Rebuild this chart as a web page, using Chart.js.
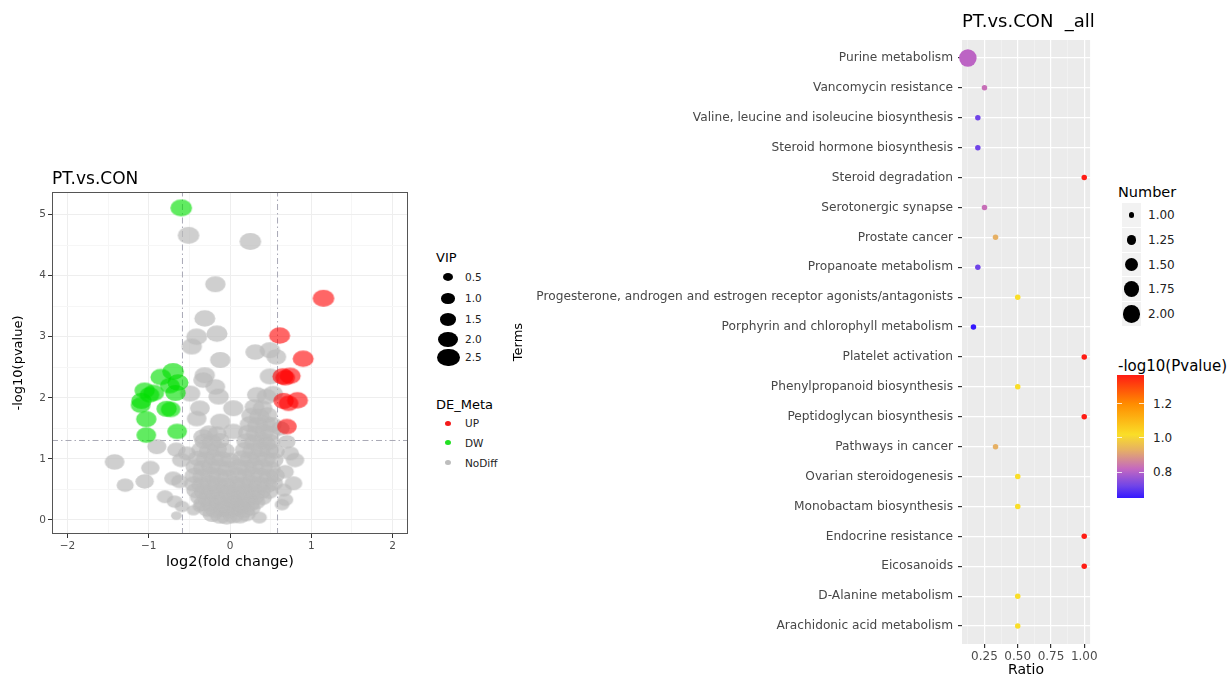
<!DOCTYPE html>
<html>
<head>
<meta charset="utf-8">
<script src="https://cdn.jsdelivr.net/npm/chart.js@4.4.1/dist/chart.umd.min.js"></script>
<style>
  html, body { margin: 0; padding: 0; background: #fff; }
  body { width: 1232px; height: 679px; position: relative; overflow: hidden;
         font-family: 'DejaVu Sans', sans-serif; }
  .box { position: absolute; }
  .t { position: absolute; line-height: 1; white-space: pre; color: #000; }
  .sw { position: absolute; }
</style>
</head>
<body>
<div class="box" style="left:0;top:160px;width:420px;height:420px"><canvas id="volcano" width="420" height="420"></canvas></div>
<div class="box" style="left:500px;top:0;width:600px;height:679px"><canvas id="enrich" width="600" height="679"></canvas></div>
<div id="overlay"></div>
<script>
// ---------------- Volcano plot data: [log2(fold change), -log10(pvalue), VIP] ----------------
const upPoints = [
  [1.15, 3.63, 2.3], [0.61, 3.02, 2.2], [0.90, 2.64, 2.2], [0.65, 2.35, 2.2], [0.74, 2.36, 2.2],
  [0.68, 2.33, 2.0], [0.83, 1.96, 2.2], [0.66, 1.95, 2.1], [0.72, 1.91, 2.0], [0.70, 1.53, 2.0]
];
const downPoints = [
  [-0.60, 5.11, 2.3], [-0.70, 2.43, 2.3], [-0.85, 2.34, 2.2], [-0.64, 2.25, 2.2], [-0.74, 2.20, 2.0],
  [-1.05, 2.12, 2.1], [-0.94, 2.08, 2.2], [-0.99, 2.05, 2.0], [-0.67, 2.08, 2.1], [-1.09, 1.95, 2.1],
  [-1.10, 1.88, 2.0], [-0.78, 1.82, 2.1], [-0.73, 1.81, 2.0], [-1.03, 1.65, 2.1], [-1.03, 1.39, 2.0],
  [-0.65, 1.45, 2.0]
];
const noDiffOutliers = [
  [-0.51, 4.66, 2.3], [0.25, 4.56, 2.3], [-0.18, 3.86, 2.1], [-0.31, 3.30, 2.2], [-0.41, 3.00, 2.2],
  [-0.16, 3.05, 2.2], [-0.47, 2.84, 2.1], [-0.12, 2.62, 2.1], [0.31, 2.75, 2.0], [0.49, 2.78, 2.1],
  [0.57, 2.67, 2.0], [-0.31, 2.37, 2.1], [-0.33, 2.29, 2.0], [-0.18, 2.18, 2.0], [-0.49, 2.07, 2.1],
  [-0.14, 2.02, 2.1], [0.33, 2.05, 2.0], [0.49, 2.35, 2.1], [0.53, 2.07, 2.0], [0.45, 2.02, 2.0],
  [-0.37, 1.83, 2.0], [0.04, 1.83, 2.1], [-0.41, 1.66, 2.0], [-0.12, 1.61, 2.1], [-0.33, 1.36, 2.0],
  [0.04, 1.45, 2.0], [-0.90, 1.20, 1.9], [-1.42, 0.95, 2.0], [-0.98, 0.85, 1.8], [-1.29, 0.57, 1.6],
  [-1.05, 0.63, 1.8], [-0.70, 0.68, 1.7], [-0.62, 0.63, 1.6], [-0.80, 0.38, 1.5], [-0.68, 0.30, 1.4],
  [-0.59, 0.22, 1.2], [-0.66, 0.07, 0.6], [-0.45, 0.16, 1.0], [-0.37, 0.22, 1.2], [0.36, 0.04, 1.3],
  [-0.66, 1.15, 1.8], [-0.60, 0.98, 1.8], [-0.53, 1.09, 1.7], [0.80, 0.98, 1.8], [0.74, 1.09, 1.7],
  [0.78, 0.60, 1.7], [0.68, 0.79, 1.6], [0.66, 0.49, 1.5], [0.68, 0.33, 1.4], [0.64, 0.25, 1.2],
  [0.70, 1.28, 1.6], [0.62, 1.50, 1.8], [0.45, 1.25, 1.8]
];
const noDiffCore = [
  [-0.22, 0.09, 1.9], [-0.12, 0.07, 2.1], [-0.04, 0.06, 2.2], [0.04, 0.08, 2.2], [0.12, 0.07, 2.0], [0.20, 0.10, 1.9],
  [-0.28, 0.17, 1.8], [-0.18, 0.16, 2.0], [-0.08, 0.18, 2.1], [0.00, 0.17, 2.2], [0.08, 0.19, 2.0], [0.18, 0.17, 2.1], [0.26, 0.19, 1.8],
  [-0.33, 0.27, 1.9], [-0.24, 0.26, 2.0], [-0.14, 0.28, 2.1], [-0.05, 0.25, 2.0], [0.05, 0.28, 2.1], [0.14, 0.26, 2.0], [0.24, 0.27, 2.1], [0.32, 0.29, 1.8],
  [-0.38, 0.37, 1.8], [-0.28, 0.35, 2.0], [-0.18, 0.38, 2.1], [-0.08, 0.36, 2.0], [0.02, 0.34, 2.1], [0.10, 0.37, 2.0], [0.20, 0.35, 2.1], [0.30, 0.38, 2.0], [0.40, 0.36, 1.8],
  [-0.42, 0.48, 1.9], [-0.32, 0.46, 2.0], [-0.22, 0.49, 2.1], [-0.12, 0.47, 2.0], [-0.02, 0.45, 2.1], [0.08, 0.48, 2.0], [0.18, 0.46, 2.1], [0.28, 0.49, 2.0], [0.38, 0.47, 2.0], [0.48, 0.46, 1.8],
  [-0.45, 0.59, 1.9], [-0.35, 0.57, 2.0], [-0.25, 0.60, 2.1], [-0.15, 0.58, 2.0], [-0.05, 0.56, 2.1], [0.06, 0.59, 2.0], [0.16, 0.57, 2.1], [0.26, 0.60, 2.0], [0.36, 0.58, 2.1], [0.46, 0.57, 2.0], [0.54, 0.60, 1.8],
  [-0.44, 0.73, 1.9], [-0.34, 0.71, 2.0], [-0.24, 0.74, 2.1], [-0.14, 0.72, 2.0], [-0.04, 0.70, 2.0], [0.08, 0.73, 2.1], [0.18, 0.71, 2.0], [0.28, 0.74, 2.1], [0.38, 0.72, 2.0], [0.48, 0.70, 2.0], [0.56, 0.73, 1.8],
  [-0.43, 0.87, 1.9], [-0.33, 0.85, 2.0], [-0.23, 0.88, 2.0], [-0.13, 0.86, 2.1], [-0.03, 0.84, 2.0], [0.10, 0.87, 2.0], [0.20, 0.85, 2.1], [0.30, 0.88, 2.0], [0.40, 0.86, 2.1], [0.50, 0.84, 2.0],
  [-0.40, 1.01, 1.9], [-0.30, 0.99, 2.0], [-0.20, 1.02, 2.1], [-0.10, 1.00, 2.0], [0.00, 0.98, 1.9], [0.14, 1.01, 2.0], [0.24, 0.99, 2.1], [0.34, 1.02, 2.0], [0.44, 1.00, 2.0], [0.54, 0.98, 1.9],
  [-0.36, 1.15, 1.9], [-0.26, 1.13, 2.0], [-0.16, 1.16, 2.0], [-0.06, 1.14, 1.9], [0.18, 1.15, 2.0], [0.28, 1.13, 2.1], [0.38, 1.16, 2.0], [0.48, 1.14, 2.0], [0.56, 1.12, 1.8],
  [-0.32, 1.29, 1.9], [-0.22, 1.27, 2.0], [-0.12, 1.30, 1.9], [0.20, 1.29, 2.0], [0.30, 1.27, 2.1], [0.40, 1.30, 2.0], [0.50, 1.28, 1.9],
  [-0.26, 1.43, 1.8], [-0.16, 1.41, 1.9], [0.22, 1.43, 2.0], [0.32, 1.41, 2.1], [0.42, 1.44, 2.0], [0.50, 1.42, 1.9],
  [0.24, 1.57, 2.0], [0.34, 1.55, 2.1], [0.44, 1.58, 2.0], [0.52, 1.56, 1.9],
  [0.26, 1.71, 2.0], [0.36, 1.69, 2.1], [0.46, 1.72, 2.0],
  [0.30, 1.85, 2.0], [0.40, 1.83, 2.0]
];
const volcanoXTicks = [-2, -1, 0, 1, 2];
const volcanoYTicks = [0, 1, 2, 3, 4, 5];
const vipLegendLevels = [0.5, 1.0, 1.5, 2.0, 2.5];
const deMetaGroups = ['UP', 'DW', 'NoDiff'];
const FC_CUT = Math.log2(1.5);       // |log2FC| threshold
const P_CUT = -Math.log10(0.05);     // p-value threshold

// ---------------- Enrichment data ----------------
const terms = [
  'Purine metabolism', 'Vancomycin resistance', 'Valine, leucine and isoleucine biosynthesis',
  'Steroid hormone biosynthesis', 'Steroid degradation', 'Serotonergic synapse', 'Prostate cancer',
  'Propanoate metabolism', 'Progesterone, androgen and estrogen receptor agonists/antagonists',
  'Porphyrin and chlorophyll metabolism', 'Platelet activation', 'Phenylpropanoid biosynthesis',
  'Peptidoglycan biosynthesis', 'Pathways in cancer', 'Ovarian steroidogenesis',
  'Monobactam biosynthesis', 'Endocrine resistance', 'Eicosanoids', 'D-Alanine metabolism',
  'Arachidonic acid metabolism'
];
const ratios = [0.125, 0.25, 0.2, 0.2, 1.0, 0.25, 0.333, 0.2, 0.5, 0.167, 1.0, 0.5, 1.0, 0.333, 0.5, 0.5, 1.0, 1.0, 0.5, 0.5];
const numbers = [2, 1, 1, 1, 1, 1, 1, 1, 1, 1, 1, 1, 1, 1, 1, 1, 1, 1, 1, 1];
const negLogP = [0.81, 0.83, 0.72, 0.72, 1.368, 0.83, 0.93, 0.72, 1.02, 0.650, 1.368, 1.02, 1.368, 0.93, 1.02, 1.02, 1.368, 1.368, 1.02, 1.02];
const ratioTicks = [0.25, 0.5, 0.75, 1.0];
const ratioMinorTicks = [0.125, 0.375, 0.625, 0.875];
const numberLegendLevels = [1.0, 1.25, 1.5, 1.75, 2.0];
const colorbarTicks = [0.8, 1.0, 1.2];
// colour gradient of -log10(Pvalue): [value, [r, g, b]]
const colorStops = [
  [0.650, [52, 24, 255]],
  [0.72, [112, 68, 232]],
  [0.82, [196, 104, 192]],
  [0.93, [230, 176, 100]],
  [1.02, [250, 222, 40]],
  [1.20, [255, 140, 0]],
  [1.368, [255, 28, 20]]
];

Chart.defaults.font.family = "'DejaVu Sans', sans-serif";
Chart.defaults.animation = false;

// ---------------- helpers ----------------
const GROUP_FILL = {
  UP: 'rgba(255, 0, 0, 0.6)',
  DW: 'rgba(0, 222, 0, 0.62)',
  NoDiff: 'rgba(187, 187, 187, 0.7)'
};
const LEGEND_DOT = { UP: '#f41a1a', DW: '#22e022', NoDiff: '#bdbdbd' };
function vipRx(vip) { return 3.5 + 3.2 * vip; }
const styleCache = {};
function ellipseStyle(fill, vip) {
  const key = fill + '|' + vip;
  if (styleCache[key]) return styleCache[key];
  const rx = vipRx(vip), ry = rx * 0.78;
  const c = document.createElement('canvas');
  c.width = Math.ceil(rx * 2) + 2;
  c.height = Math.ceil(ry * 2) + 2;
  const g = c.getContext('2d');
  g.fillStyle = fill;
  g.beginPath();
  g.ellipse(c.width / 2, c.height / 2, rx, ry, 0, 0, Math.PI * 2);
  g.fill();
  styleCache[key] = c;
  return c;
}
function volcanoSet(label, points, order) {
  const fill = GROUP_FILL[label];
  return {
    type: 'scatter', label, order,
    data: points.map(([x, y, vip]) => ({ x, y, vip })),
    pointStyle: ctx => ellipseStyle(fill, ctx.raw ? ctx.raw.vip : 1),
    pointRadius: ctx => (ctx.raw ? vipRx(ctx.raw.vip) : 5),
    backgroundColor: fill,
    borderWidth: 0
  };
}
function colorFor(v) {
  if (v <= colorStops[0][0]) return 'rgb(' + colorStops[0][1].join(',') + ')';
  for (let i = 1; i < colorStops.length; i++) {
    const [v1, c1] = colorStops[i];
    const [v0, c0] = colorStops[i - 1];
    if (v <= v1) {
      const t = (v - v0) / (v1 - v0);
      return 'rgb(' + c0.map((a, k) => Math.round(a + (c1[k] - a) * t)).join(',') + ')';
    }
  }
  return 'rgb(' + colorStops[colorStops.length - 1][1].join(',') + ')';
}
// bubble area grows linearly with Number
function numberRadius(n) {
  const d1 = 5.5, d2 = 17.5;
  return Math.sqrt(d1 * d1 + (d2 * d2 - d1 * d1) * (n - 1)) / 2;
}
function withMinors(majors, step) {
  const out = [];
  majors.forEach((v, i) => {
    out.push({ value: v, major: true });
    if (i < majors.length - 1) out.push({ value: v + step, major: false });
  });
  return out;
}

// ---------------- Volcano plot ----------------
const X_MIN = -2.19, X_MAX = 2.19, Y_MIN = -0.23, Y_MAX = 5.37;
const guideStyle = {
  type: 'line', showLine: true, pointRadius: 0, borderColor: '#a9a9b6',
  borderWidth: 1, borderDash: [6, 3, 1.5, 3], order: 10, fill: false
};
const panelBorder = {
  id: 'panelBorder',
  afterDraw(chart) {
    const { ctx, chartArea: a } = chart;
    ctx.save();
    ctx.strokeStyle = '#555555';
    ctx.lineWidth = 1;
    ctx.strokeRect(Math.round(a.left) + 0.5, Math.round(a.top) + 0.5,
                   Math.round(a.width) - 1, Math.round(a.height) - 1);
    ctx.restore();
  }
};
new Chart(document.getElementById('volcano'), {
  type: 'scatter',
  data: {
    datasets: [
      volcanoSet('UP', upPoints, 1),
      volcanoSet('DW', downPoints, 2),
      volcanoSet('NoDiff', noDiffOutliers.concat(noDiffCore), 3),
      Object.assign({ data: [{ x: -FC_CUT, y: Y_MIN }, { x: -FC_CUT, y: Y_MAX }] }, guideStyle),
      Object.assign({ data: [{ x: FC_CUT, y: Y_MIN }, { x: FC_CUT, y: Y_MAX }] }, guideStyle),
      Object.assign({ data: [{ x: X_MIN, y: P_CUT }, { x: X_MAX, y: P_CUT }] }, guideStyle)
    ]
  },
  options: {
    responsive: false,
    layout: { padding: { top: 32, right: 12, left: 0, bottom: 0 } },
    plugins: { legend: { display: false }, tooltip: { enabled: false } },
    scales: {
      x: {
        type: 'linear', min: X_MIN, max: X_MAX,
        afterBuildTicks: s => { s.ticks = withMinors(volcanoXTicks, 0.5); },
        afterFit: s => { s.height = 46; },
        border: { display: false },
        grid: {
          color: c => (c.tick && c.tick.major ? '#eeeeee' : '#f6f6f6'),
          tickColor: c => (c.tick && c.tick.major ? '#333333' : 'rgba(0,0,0,0)'),
          tickLength: 4, lineWidth: 1
        },
        ticks: {
          autoSkip: false, maxRotation: 0, padding: 2, color: '#4d4d4d',
          font: { size: 10.5 },
          callback: v => (Number.isInteger(v) ? String(v).replace('-', '\u2212') : '')
        },
        title: { display: true, text: 'log2(fold change)', color: '#000',
                 font: { size: 14.5 }, padding: { top: 0, bottom: 9 } }
      },
      y: {
        type: 'linear', min: Y_MIN, max: Y_MAX,
        afterBuildTicks: s => { s.ticks = withMinors(volcanoYTicks, 0.5); },
        afterFit: s => { s.width = 52; },
        border: { display: false },
        grid: {
          color: c => (c.tick && c.tick.major ? '#eeeeee' : '#f6f6f6'),
          tickColor: c => (c.tick && c.tick.major ? '#333333' : 'rgba(0,0,0,0)'),
          tickLength: 4, lineWidth: 1
        },
        ticks: {
          autoSkip: false, padding: 2, color: '#4d4d4d', font: { size: 10.5 },
          callback: v => (Number.isInteger(v) ? String(v) : '')
        },
        title: { display: true, text: '-log10(pvalue)', color: '#000',
                 font: { size: 13 }, padding: { top: 11, bottom: 0 } }
      }
    }
  },
  plugins: [panelBorder]
});

// ---------------- Enrichment bubble plot ----------------
const panelFill = {
  id: 'panelFill',
  beforeDraw(chart) {
    const { ctx, chartArea: a } = chart;
    ctx.save();
    ctx.fillStyle = '#ebebeb';
    ctx.fillRect(a.left, a.top, a.width, a.height);
    ctx.restore();
  }
};
new Chart(document.getElementById('enrich'), {
  type: 'scatter',
  data: {
    datasets: [{
      data: terms.map((t, i) => ({ x: ratios[i], y: i })),
      pointRadius: c => numberRadius(numbers[c.dataIndex] || 1),
      pointHoverRadius: c => numberRadius(numbers[c.dataIndex] || 1),
      backgroundColor: c => colorFor(negLogP[c.dataIndex] || 1),
      borderWidth: 0,
      clip: false
    }]
  },
  options: {
    responsive: false,
    layout: { padding: { top: 40, right: 8, left: 0, bottom: 0 } },
    plugins: { legend: { display: false }, tooltip: { enabled: false } },
    scales: {
      x: {
        type: 'linear', min: 0.081, max: 1.044,
        afterBuildTicks: s => {
          s.ticks = ratioMinorTicks.map(v => ({ value: v, major: false }))
            .concat(ratioTicks.map(v => ({ value: v, major: true })))
            .sort((a, b) => a.value - b.value);
        },
        afterFit: s => { s.height = 35; },
        border: { display: false },
        grid: {
          color: c => (c.tick && c.tick.major ? '#ffffff' : 'rgba(255,255,255,0.55)'),
          lineWidth: c => (c.tick && c.tick.major ? 1.2 : 0.6),
          tickColor: c => (c.tick && c.tick.major ? '#333333' : 'rgba(0,0,0,0)'),
          tickLength: 4
        },
        ticks: {
          autoSkip: false, maxRotation: 0, padding: 2, color: '#4d4d4d', font: { size: 12 },
          callback: v => (ratioTicks.includes(v) ? v.toFixed(2) : '')
        },
        title: { display: true, text: 'Ratio', color: '#000', font: { size: 14 },
                 padding: { top: 0, bottom: 0 } }
      },
      y: {
        type: 'linear', min: -0.6, max: terms.length - 0.4, reverse: true,
        afterBuildTicks: s => { s.ticks = terms.map((t, i) => ({ value: i })); },
        afterFit: s => { s.width = 462; },
        border: { display: false },
        grid: { color: '#ffffff', lineWidth: 1.2, tickColor: '#333333', tickLength: 4 },
        ticks: {
          autoSkip: false, padding: 5, color: '#474747', font: { size: 12.2 },
          callback: v => terms[v]
        },
        title: { display: true, text: 'Terms', color: '#000', font: { size: 13 },
                 padding: { top: 11, bottom: 0 } }
      }
    }
  },
  plugins: [panelFill]
});

// ---------------- Titles and legends ----------------
const overlay = document.getElementById('overlay');
function text(str, x, yCenter, size, color) {
  const d = document.createElement('div');
  d.className = 't';
  d.textContent = str;
  d.style.left = x + 'px';
  d.style.top = (yCenter - size * 0.48) + 'px';
  d.style.fontSize = size + 'px';
  if (color) d.style.color = color;
  overlay.appendChild(d);
  return d;
}
function swatch(cx, cy, w, h, color, round) {
  const d = document.createElement('div');
  d.className = 'sw';
  d.style.left = (cx - w / 2) + 'px';
  d.style.top = (cy - h / 2) + 'px';
  d.style.width = w + 'px';
  d.style.height = h + 'px';
  d.style.background = color;
  if (round) d.style.borderRadius = '50%';
  overlay.appendChild(d);
}

text('PT.vs.CON', 52, 178.5, 17);
text('PT.vs.CON  _all', 962, 21, 18);

// VIP size legend
text('VIP', 436, 257, 13);
const vipRows = [277.3, 298.3, 319.3, 339.3, 357.5];
vipLegendLevels.forEach((v, i) => {
  const rx = vipRx(v);
  swatch(448, vipRows[i], rx * 2, rx * 1.56, '#000', true);
  text(v.toFixed(1), 465, vipRows[i], 10.5, '#222');
});
// DE_Meta colour legend
text('DE_Meta', 436, 404, 13);
const deRows = [423.3, 442.7, 462.7];
deMetaGroups.forEach((g, i) => {
  swatch(448, deRows[i], 6.5, 5.5, LEGEND_DOT[g], true);
  text(g, 465, deRows[i], 10.5, '#222');
});

// Number size legend
text('Number', 1118, 192, 14.5);
const numRows = [215, 240, 264.3, 289, 314];
numberLegendLevels.forEach((n, i) => {
  swatch(1131.5, numRows[i], 19, 23.5, '#f2f2f2', false);
  const r = numberRadius(n);
  swatch(1131.5, numRows[i], r * 2, r * 2, '#000', true);
  text(n.toFixed(2), 1148, numRows[i], 12, '#222');
});

// -log10(Pvalue) colour bar
text('-log10(Pvalue)', 1118, 366.5, 15);
const CB_TOP = 375, CB_BOTTOM = 497.7, CB_LEFT = 1117, CB_W = 27;
const vLo = colorStops[0][0], vHi = colorStops[colorStops.length - 1][0];
const bar = document.createElement('div');
bar.className = 'sw';
bar.style.left = CB_LEFT + 'px';
bar.style.top = CB_TOP + 'px';
bar.style.width = CB_W + 'px';
bar.style.height = (CB_BOTTOM - CB_TOP) + 'px';
bar.style.background = 'linear-gradient(to top,' + colorStops.map(([v, c]) =>
  'rgb(' + c.join(',') + ') ' + ((v - vLo) / (vHi - vLo) * 100).toFixed(2) + '%').join(',') + ')';
overlay.appendChild(bar);
colorbarTicks.forEach(v => {
  const y = CB_BOTTOM - (v - vLo) / (vHi - vLo) * (CB_BOTTOM - CB_TOP);
  swatch(CB_LEFT + 2.5, y, 5, 1, 'rgba(255,255,255,0.8)', false);
  swatch(CB_LEFT + CB_W - 2.5, y, 5, 1, 'rgba(255,255,255,0.8)', false);
  text(v.toFixed(1), 1153, y, 12, '#222');
});
</script>
</body>
</html>
